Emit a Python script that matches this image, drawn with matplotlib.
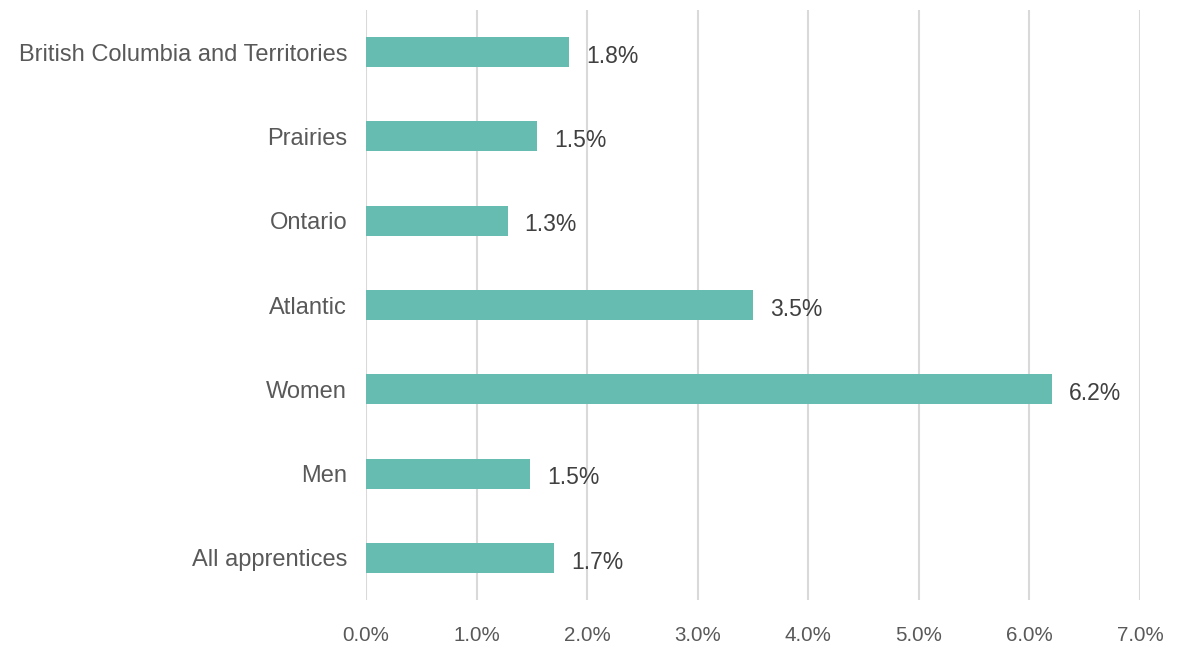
import numpy as np
import matplotlib.pyplot as plt
from matplotlib.ticker import FuncFormatter

# Data (bottom to top)
categories = ['All apprentices', 'Men', 'Women', 'Atlantic', 'Ontario',
              'Prairies', 'British Columbia and Territories']
values = [1.70, 1.48, 6.20, 3.50, 1.28, 1.55, 1.84]
labels = ['1.7%', '1.5%', '6.2%', '3.5%', '1.3%', '1.5%', '1.8%']
xticks = [0, 1, 2, 3, 4, 5, 6, 7]

bar_color = '#66BCB0'
grid_color = '#D9D9D9'

plt.rcParams['font.family'] = ['Liberation Sans', 'DejaVu Sans']

fig = plt.figure(figsize=(11.78, 6.46), dpi=100)
ax = fig.add_axes([366 / 1178, 1 - 600 / 646, (1140 - 366) / 1178, 590 / 646])

y = np.arange(len(categories))
ax.barh(y, values, height=0.355, color=bar_color, zorder=3)

for yi, v, lab in zip(y, values, labels):
    ax.text(v + 0.155, yi - 0.05, lab, va='center', ha='left',
            fontsize=16.5, color='#404040')

ax.set_xlim(0, 7)
ax.set_ylim(-0.5, len(categories) - 0.5)
ax.set_xticks(xticks)
ax.xaxis.set_major_formatter(FuncFormatter(lambda v, p: '%.1f%%' % v))
ax.set_yticks(y)
ax.set_yticklabels(categories)

ax.grid(axis='x', color=grid_color, linewidth=1.5, zorder=0)
ax.grid(axis='y', visible=False)
for s in ax.spines.values():
    s.set_visible(False)

ax.tick_params(axis='x', length=0, pad=19, labelsize=14.8, labelcolor='#595959')
ax.tick_params(axis='y', length=0, pad=13.5, labelsize=17, labelcolor='#595959')

fig.savefig('out.png', dpi=100)
